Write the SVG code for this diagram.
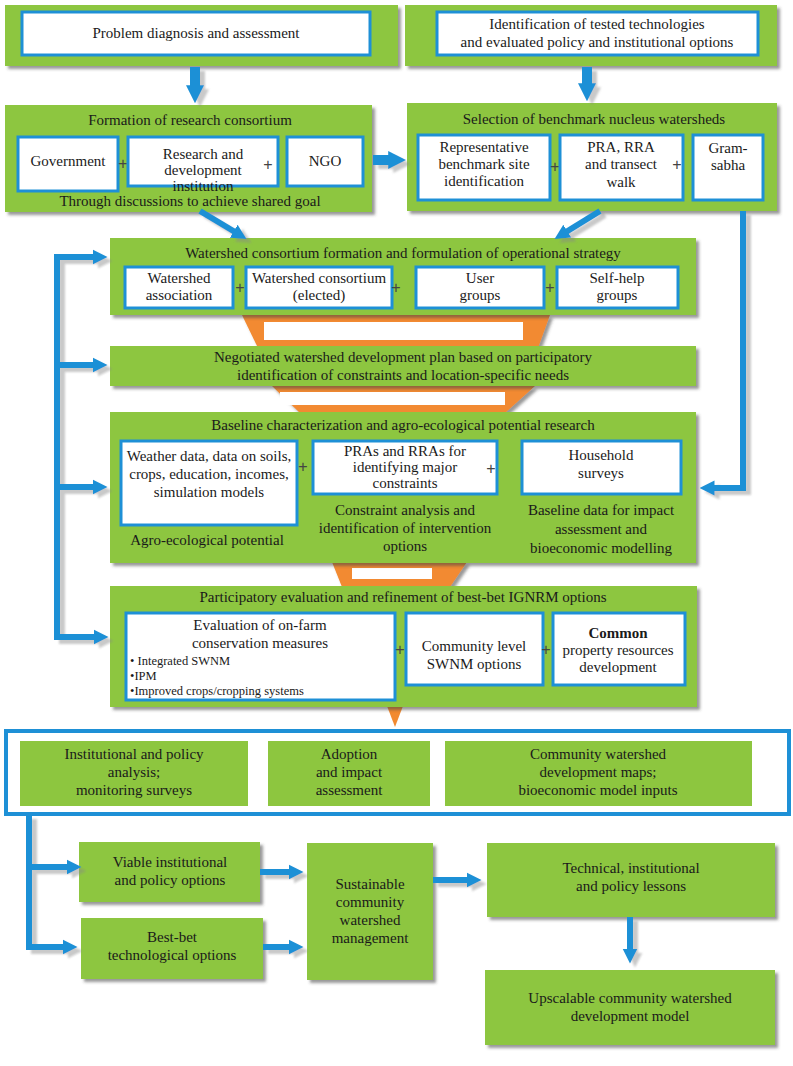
<svg xmlns="http://www.w3.org/2000/svg" width="793" height="1066" viewBox="0 0 793 1066">
<defs>
<style>
.g{fill:#8DC63F;filter:url(#sh)}
.w{fill:#fff;stroke:#1E90D6;stroke-width:3}
.t{font-family:"Liberation Serif","Times New Roman",serif;font-size:15px;fill:#1a1a1a;text-anchor:middle}
.s{font-family:"Liberation Serif","Times New Roman",serif;font-size:12.5px;fill:#1a1a1a}
.b{font-weight:bold}
.p{font-family:"Liberation Sans",Arial,sans-serif;font-size:16px;fill:#444;text-anchor:middle}
.c{fill:none;stroke:#1E90D6;stroke-width:6;marker-end:url(#ah)}
.cb{fill:none;stroke:#1E90D6;stroke-width:10;marker-end:url(#ahb)}
.o{fill:#F28A30}
.fw{fill:#fff}
</style>
<filter id="sh" x="-5%" y="-5%" width="115%" height="125%"><feDropShadow dx="3" dy="3" stdDeviation="1.5" flood-color="#444" flood-opacity="0.55"/></filter>
<filter id="csh" x="-10%" y="-10%" width="130%" height="130%"><feDropShadow dx="5" dy="4" stdDeviation="1" flood-color="#888" flood-opacity="0.45"/></filter>
<marker id="ah" viewBox="0 0 10 10" refX="1" refY="5" markerWidth="15" markerHeight="17" markerUnits="userSpaceOnUse" orient="auto"><path d="M0,0 L10,5 L0,10 z" fill="#1E90D6"/></marker>
<marker id="ahb" viewBox="0 0 10 10" refX="1" refY="5" markerWidth="18" markerHeight="24" markerUnits="userSpaceOnUse" orient="auto"><path d="M0,0 L10,5 L0,10 z" fill="#1E90D6"/></marker>
</defs>
<rect width="793" height="1066" fill="#fff"/>

<g id="funnels">
<polygon class="o" points="242,315 550,315 538,348 258,348" filter="url(#sh)"/>
<rect class="fw" x="264" y="322" width="259" height="18"/>
<polygon class="o" points="272,386 535,386 505,413 300,413" filter="url(#sh)"/>
<rect class="fw" x="280" y="392" width="225" height="13"/>
<polygon class="o" points="332,562 467,562 450,587 342,587" filter="url(#sh)"/>
<rect class="fw" x="352" y="568" width="80" height="11"/>
<polygon class="o" points="387,706 403,706 395,727"/>
</g>

<g id="problem">
<rect class="g" x="5" y="5" width="393" height="61"/>
<rect class="w" x="22" y="12" width="348" height="43"/>
<text class="t" x="196" y="38">Problem diagnosis and assessment</text>
</g>

<g id="identification">
<rect class="g" x="405" y="5" width="372" height="61"/>
<rect class="w" x="437" y="12" width="321" height="43"/>
<text class="t" x="597" y="29">Identification of tested technologies</text>
<text class="t" x="597" y="47">and evaluated policy and institutional options</text>
</g>

<g id="formation">
<rect class="g" x="5" y="105" width="367" height="107"/>
<text class="t" x="190" y="125">Formation of research consortium</text>
<rect class="w" x="18" y="137" width="100" height="54"/>
<text class="t" x="68" y="166">Government</text>
<text class="p" x="123" y="169">+</text>
<rect class="w" x="128" y="137" width="150" height="49"/>
<text class="t" x="203" y="159">Research and</text>
<text class="t" x="203" y="175">development</text>
<text class="t" x="203" y="191">institution</text>
<text class="p" x="268" y="170">+</text>
<rect class="w" x="287" y="137" width="76" height="49"/>
<text class="t" x="325" y="166">NGO</text>
<text class="t" x="190" y="206">Through discussions to achieve shared goal</text>
</g>

<g id="selection">
<rect class="g" x="407" y="103" width="370" height="108"/>
<text class="t" x="594" y="124">Selection of benchmark nucleus watersheds</text>
<rect class="w" x="418" y="135" width="132" height="65"/>
<text class="t" x="484" y="152">Representative</text>
<text class="t" x="484" y="169">benchmark site</text>
<text class="t" x="484" y="186">identification</text>
<text class="p" x="555" y="172">+</text>
<rect class="w" x="560" y="135" width="123" height="65"/>
<text class="t" x="621" y="152">PRA, RRA</text>
<text class="t" x="621" y="169">and transect</text>
<text class="t" x="621" y="187">walk</text>
<text class="p" x="677" y="170">+</text>
<rect class="w" x="693" y="135" width="70" height="65"/>
<text class="t" x="728" y="153">Gram-</text>
<text class="t" x="728" y="170">sabha</text>
</g>

<g id="consortium">
<rect class="g" x="110" y="238" width="586" height="77"/>
<text class="t" x="403" y="258">Watershed consortium formation and formulation of operational strategy</text>
<rect class="w" x="125" y="267" width="108" height="41"/>
<text class="t" x="179" y="283">Watershed</text>
<text class="t" x="179" y="300">association</text>
<text class="p" x="240" y="293">+</text>
<rect class="w" x="246" y="267" width="146" height="41"/>
<text class="t" x="319" y="283">Watershed consortium</text>
<text class="t" x="319" y="300">(elected)</text>
<text class="p" x="396" y="293">+</text>
<rect class="w" x="416" y="267" width="128" height="41"/>
<text class="t" x="480" y="283">User</text>
<text class="t" x="480" y="300">groups</text>
<text class="p" x="550" y="293">+</text>
<rect class="w" x="557" y="267" width="121" height="41"/>
<text class="t" x="617" y="283">Self-help</text>
<text class="t" x="617" y="300">groups</text>
</g>

<g id="negotiated">
<rect class="g" x="110" y="346" width="586" height="40"/>
<text class="t" x="403" y="362">Negotiated watershed development plan based on participatory</text>
<text class="t" x="403" y="380">identification of constraints and location-specific needs</text>
</g>

<g id="baseline">
<rect class="g" x="110" y="412" width="586" height="151"/>
<text class="t" x="403" y="430">Baseline characterization and agro-ecological potential research</text>
<rect class="w" x="121" y="441" width="176" height="84"/>
<text class="t" x="209" y="461">Weather data, data on soils,</text>
<text class="t" x="209" y="479">crops, education, incomes,</text>
<text class="t" x="209" y="497">simulation models</text>
<text class="p" x="303" y="472">+</text>
<rect class="w" x="313" y="441" width="184" height="53"/>
<text class="t" x="405" y="456">PRAs and RRAs for</text>
<text class="t" x="405" y="472">identifying major</text>
<text class="t" x="405" y="488">constraints</text>
<text class="p" x="491" y="474">+</text>
<rect class="w" x="522" y="441" width="159" height="53"/>
<text class="t" x="601" y="460">Household</text>
<text class="t" x="601" y="478">surveys</text>
<text class="t" x="207" y="545">Agro-ecological potential</text>
<text class="t" x="405" y="515">Constraint analysis and</text>
<text class="t" x="405" y="533">identification of intervention</text>
<text class="t" x="405" y="551">options</text>
<text class="t" x="601" y="515">Baseline data for impact</text>
<text class="t" x="601" y="534">assessment and</text>
<text class="t" x="601" y="553">bioeconomic modelling</text>
</g>

<g id="participatory">
<rect class="g" x="110" y="586" width="587" height="121"/>
<text class="t" x="403" y="602">Participatory evaluation and refinement of best-bet IGNRM options</text>
<rect class="w" x="126" y="613" width="269" height="87"/>
<text class="t" x="260" y="630">Evaluation of on-farm</text>
<text class="t" x="260" y="648">conservation measures</text>
<text class="s" x="130" y="665">• Integrated SWNM</text>
<text class="s" x="130" y="680">•IPM</text>
<text class="s" x="130" y="695">•Improved crops/cropping systems</text>
<text class="p" x="400" y="655">+</text>
<rect class="w" x="406" y="613" width="137" height="72"/>
<text class="t" x="474" y="651">Community level</text>
<text class="t" x="474" y="669">SWNM options</text>
<text class="p" x="546" y="655">+</text>
<rect class="w" x="553" y="613" width="132" height="72"/>
<text class="t b" x="618" y="638">Common</text>
<text class="t" x="618" y="655">property resources</text>
<text class="t" x="618" y="672">development</text>
</g>

<g id="outputs">
<rect x="6" y="731" width="783" height="83" fill="#fff" stroke="#1E90D6" stroke-width="4"/>
<rect x="20" y="741" width="228" height="65" fill="#8DC63F"/>
<text class="t" x="134" y="759">Institutional and policy</text>
<text class="t" x="134" y="777">analysis;</text>
<text class="t" x="134" y="795">monitoring surveys</text>
<rect x="268" y="741" width="162" height="65" fill="#8DC63F"/>
<text class="t" x="349" y="759">Adoption</text>
<text class="t" x="349" y="777">and impact</text>
<text class="t" x="349" y="795">assessment</text>
<rect x="445" y="741" width="307" height="65" fill="#8DC63F"/>
<text class="t" x="598" y="759">Community watershed</text>
<text class="t" x="598" y="777">development maps;</text>
<text class="t" x="598" y="795">bioeconomic model inputs</text>
</g>

<g id="viable">
<rect class="g" x="79" y="842" width="181" height="60"/>
<text class="t" x="170" y="867">Viable institutional</text>
<text class="t" x="170" y="885">and policy options</text>
</g>
<g id="bestbet">
<rect class="g" x="81" y="918" width="182" height="61"/>
<text class="t" x="172" y="942">Best-bet</text>
<text class="t" x="172" y="960">technological options</text>
</g>
<g id="sustainable">
<rect class="g" x="307" y="843" width="126" height="137"/>
<text class="t" x="370" y="889">Sustainable</text>
<text class="t" x="370" y="907">community</text>
<text class="t" x="370" y="925">watershed</text>
<text class="t" x="370" y="943">management</text>
</g>
<g id="technical">
<rect class="g" x="487" y="843" width="288" height="74"/>
<text class="t" x="631" y="873">Technical, institutional</text>
<text class="t" x="631" y="891">and policy lessons</text>
</g>
<g id="upscalable">
<rect class="g" x="485" y="970" width="290" height="75"/>
<text class="t" x="630" y="1003">Upscalable community watershed</text>
<text class="t" x="630" y="1021">development model</text>
</g>

<g id="connectors" filter="url(#csh)">
<path class="cb" d="M195,67 V87"/>
<path class="cb" d="M587,67 V85"/>
<path class="cb" d="M373,160 H390"/>
<path class="c" d="M200,211 L235,232"/>
<path class="c" d="M600,211 L566,232"/>
<path class="c" d="M57,640 V257 H94"/>
<path class="c" d="M57,365 H94"/>
<path class="c" d="M57,487 H94"/>
<path class="c" d="M57,637 H95"/>
<path class="c" d="M743,211 V488 H713"/>
<path class="c" d="M29,815 V947 H64"/>
<path class="c" d="M29,867 H68"/>
<path class="c" d="M260,872 H290"/>
<path class="c" d="M263,947 H290"/>
<path class="c" d="M433,880 H468"/>
<path class="c" d="M630,917 V950"/>
</g>
</svg>
